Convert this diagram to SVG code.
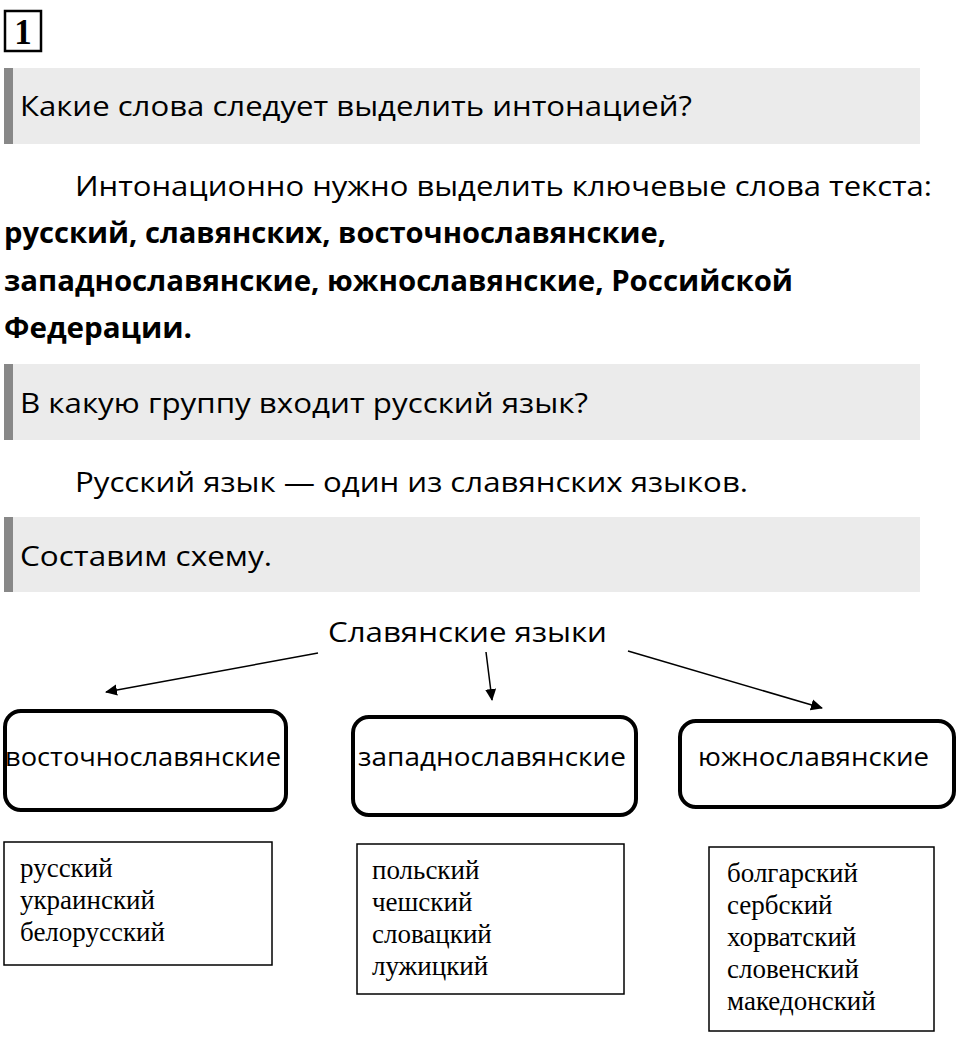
<svg xmlns="http://www.w3.org/2000/svg" width="960" height="1051" viewBox="0 0 960 1051">
<defs>
<marker id="arr" markerWidth="12" markerHeight="12" refX="11" refY="6" orient="auto" markerUnits="userSpaceOnUse">
<path d="M0,0.5 L12,6 L0,11.5 Z" fill="#000"/>
</marker>
<style>
.sans{font-family:"Open Sans","Noto Sans","DejaVu Sans",sans-serif;fill:#000}
.q{font-size:27px}
.p{font-size:28px}
.b{font-size:28px;font-weight:bold}
.bar{fill:#ebebeb}
.acc{fill:#888}
.node{fill:#fff;stroke:#000;stroke-width:4}
.lst{fill:#fff;stroke:#000;stroke-width:1.5}
.serif{font-family:"Liberation Serif","Times New Roman",serif;font-size:27px;fill:#000}
.conn{stroke:#000;stroke-width:1.5;fill:none}
</style>
</defs>
<rect width="960" height="1051" fill="#fff"/>
<g id="num">
<rect x="5" y="11" width="36" height="40" fill="#fff" stroke="#000" stroke-width="2.5"/>
<text x="23" y="44" text-anchor="middle" font-family="Liberation Serif,serif" font-weight="bold" font-size="35">1</text>
</g>
<g id="q1">
<rect class="bar" x="4" y="68" width="916" height="76"/>
<rect class="acc" x="4" y="68" width="9" height="76"/>
<text class="sans q" x="20" y="116" textLength="672" lengthAdjust="spacingAndGlyphs">Какие слова следует выделить интонацией?</text>
</g>
<g id="a1">
<text class="sans p" x="75" y="196" textLength="857" lengthAdjust="spacingAndGlyphs">Интонационно нужно выделить ключевые слова текста:</text>
<text class="sans b" x="4" y="243" textLength="662" lengthAdjust="spacingAndGlyphs">русский, славянских, восточнославянские,</text>
<text class="sans b" x="4" y="291" textLength="789" lengthAdjust="spacingAndGlyphs">западнославянские, южнославянские, Российской</text>
<text class="sans b" x="4" y="338" textLength="188" lengthAdjust="spacingAndGlyphs">Федерации.</text>
</g>
<g id="q2">
<rect class="bar" x="4" y="364" width="916" height="76"/>
<rect class="acc" x="4" y="364" width="9" height="76"/>
<text class="sans q" x="20" y="413" textLength="568" lengthAdjust="spacingAndGlyphs">В какую группу входит русский язык?</text>
</g>
<g id="a2">
<text class="sans p" x="75" y="492" textLength="673" lengthAdjust="spacingAndGlyphs">Русский язык — один из славянских языков.</text>
</g>
<g id="q3">
<rect class="bar" x="4" y="517" width="916" height="75"/>
<rect class="acc" x="4" y="517" width="9" height="75"/>
<text class="sans q" x="20" y="566" textLength="252" lengthAdjust="spacingAndGlyphs">Составим схему.</text>
</g>
<g id="root">
<text class="sans p" x="328" y="642" textLength="279" lengthAdjust="spacingAndGlyphs">Славянские языки</text>
</g>
<g id="connectors">
<line class="conn" x1="318" y1="653" x2="106" y2="692" marker-end="url(#arr)"/>
<line class="conn" x1="486" y1="652" x2="492" y2="700" marker-end="url(#arr)"/>
<line class="conn" x1="628" y1="651" x2="822" y2="708" marker-end="url(#arr)"/>
</g>
<g id="east">
<rect class="node" x="5" y="711" width="281" height="99" rx="16"/>
<text class="sans" font-size="25" x="5" y="766" textLength="276" lengthAdjust="spacingAndGlyphs">восточнославянские</text>
</g>
<g id="west">
<rect class="node" x="353" y="717" width="283" height="98" rx="16"/>
<text class="sans" font-size="25" x="358" y="766" textLength="268" lengthAdjust="spacingAndGlyphs">западнославянские</text>
</g>
<g id="south">
<rect class="node" x="680" y="721" width="274" height="86" rx="16"/>
<text class="sans" font-size="25" x="698" y="766" textLength="231" lengthAdjust="spacingAndGlyphs">южнославянские</text>
</g>
<g id="eastList">
<rect class="lst" x="4" y="842" width="268" height="123"/>
<text class="serif" x="20" y="877">русский</text>
<text class="serif" x="20" y="909">украинский</text>
<text class="serif" x="20" y="941">белорусский</text>
</g>
<g id="westList">
<rect class="lst" x="357" y="844" width="267" height="150"/>
<text class="serif" x="372" y="879">польский</text>
<text class="serif" x="372" y="911">чешский</text>
<text class="serif" x="372" y="943">словацкий</text>
<text class="serif" x="372" y="975">лужицкий</text>
</g>
<g id="southList">
<rect class="lst" x="709" y="847" width="225" height="184"/>
<text class="serif" x="727" y="882">болгарский</text>
<text class="serif" x="727" y="914">сербский</text>
<text class="serif" x="727" y="946">хорватский</text>
<text class="serif" x="727" y="978">словенский</text>
<text class="serif" x="727" y="1010">македонский</text>
</g>
</svg>
